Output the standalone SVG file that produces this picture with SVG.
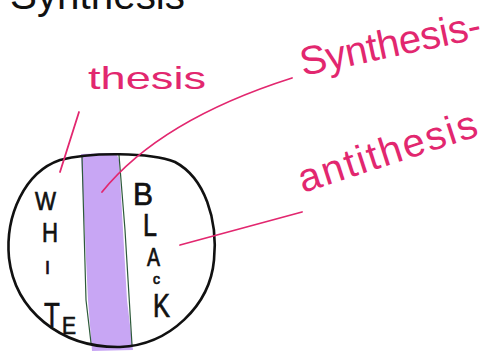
<svg xmlns="http://www.w3.org/2000/svg" width="496" height="353" viewBox="0 0 496 353">
<style>
.pink{fill:none;stroke:#e2276f;stroke-width:1.8;stroke-linecap:round}
.pt{fill:#e2276f;font-family:"Liberation Sans",Arial,sans-serif}
.bt{fill:#111;font-family:"Liberation Sans",Arial,sans-serif}
.lt{fill:#111;stroke:#111;stroke-width:0.7;font-family:"Liberation Sans",Arial,sans-serif}
.edge{fill:none;stroke:#2d5a3a;stroke-width:1.2}
</style>
<rect width="496" height="353" fill="#fff"/>
<text class="bt" x="10" y="9" font-size="40" textLength="175" lengthAdjust="spacingAndGlyphs">Synthesis</text>
<g id="globe">
<path d="M81,154 L112,153 Q118,154 119,160 L127,300 L133,350 L92,351 L88,300 Z" fill="#c8a6f4"/>
<path class="edge" d="M82,156 L86,300 L91,343"/>
<path class="edge" d="M119,155 L125,230 L132,345"/>
<path d="M60,160 C90,152 150,152 175,162 C205,178 218,220 214,260 C210,305 170,345 120,347 C60,348 15,310 9,258 C5,215 25,172 60,160 Z" fill="none" stroke="#111" stroke-width="2.6"/>
</g>
<g id="white-label">
<text class="lt" x="35" y="210" font-size="26" textLength="21" lengthAdjust="spacingAndGlyphs">W</text>
<text class="lt" x="42" y="242" font-size="27" textLength="16" lengthAdjust="spacingAndGlyphs">H</text>
<text class="lt" x="45" y="274" font-size="18">I</text>
<text class="lt" font-size="36" transform="translate(44,327) scale(0.72,1)">T</text>
<text class="lt" x="62" y="334" font-size="23" textLength="14" lengthAdjust="spacingAndGlyphs">E</text>
</g>
<g id="black-label">
<text class="lt" x="133" y="205" font-size="31" textLength="20" lengthAdjust="spacingAndGlyphs">B</text>
<text class="lt" x="143" y="236" font-size="32" textLength="14" lengthAdjust="spacingAndGlyphs">L</text>
<text class="lt" x="147" y="266" font-size="26" textLength="13" lengthAdjust="spacingAndGlyphs">A</text>
<text class="lt" x="153" y="284" font-size="14">c</text>
<text class="lt" x="153" y="317" font-size="33" textLength="17" lengthAdjust="spacingAndGlyphs">K</text>
</g>
<g id="connectors">
<path class="pink" d="M60,172 L79,112"/>
<path class="pink" d="M102,192 Q160,120 292,78"/>
<path class="pink" d="M180,245 L302,212"/>
</g>
<g id="thesis">
<text class="pt" x="88" y="89" font-size="32" textLength="118" lengthAdjust="spacingAndGlyphs">thesis</text>
</g>
<g id="synthesis">
<text class="pt" x="303" y="76" font-size="40" textLength="184" transform="rotate(-12 303 76)">Synthesis-</text>
</g>
<g id="antithesis">
<text class="pt" x="303" y="193" font-size="40" textLength="186" transform="rotate(-18 303 193)">antithesis</text>
</g>
</svg>
